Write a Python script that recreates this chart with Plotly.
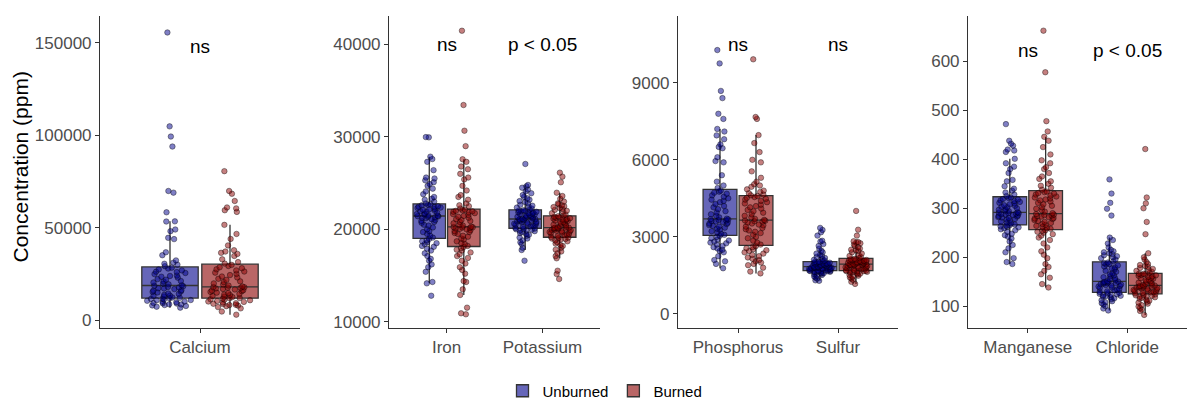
import plotly.graph_objects as go

W, H = 1187, 401
FONT = "Liberation Sans"

groups = ["Unburned", "Burned"]

calcium_unburned = [6900, 7400, 7800, 8100, 8300, 8600, 8700, 9100, 9300, 9400, 9800, 10100, 10200, 10600, 10900, 11000, 11300, 11600, 11700, 11900,
                    12200, 12400, 12900, 13300, 13400, 13800, 14300, 14500, 15100, 15400, 15600, 16100, 16300, 16900, 17200, 17400, 17800, 18100, 18400, 18700,
                    19000, 19500, 19800, 20500, 21000, 21300, 22000, 22300, 23100, 23600, 24000, 24200, 25000, 25600, 26100, 26300, 27000, 27500, 28000, 28500,
                    29300, 30100, 30600, 31200, 32400, 35200, 36800, 43900, 44600, 48200, 49100, 53400, 53500, 58400, 69000, 69900, 93900, 99300, 104800, 155500]
calcium_burned = [3100, 4800, 6500, 7200, 7700, 8000, 8300, 8400, 8800, 9000, 9300, 9700, 10000, 10200, 10500, 10900, 11200, 11400, 11700, 11900,
                  12100, 12600, 12800, 13200, 13700, 14000, 14300, 14800, 15000, 15400, 15800, 16100, 16300, 16700, 17000, 17300, 17500, 17700, 17900, 18000,
                  18300, 18800, 19400, 20000, 20700, 21100, 21900, 22500, 23200, 23700, 24500, 25100, 25800, 26400, 27000, 27600, 28200, 28700, 29400, 30000,
                  30700, 31500, 33000, 34800, 35900, 36500, 37200, 37900, 40500, 44000, 46700, 51600, 58600, 59500, 60500, 61000, 64500, 68400, 69900, 80600]

iron_unburned = [12810, 14150, 14300, 15400, 15900, 16200, 16600, 16800, 17100, 17400, 17700, 17900, 18100, 18200, 18400, 18500, 18600, 18700, 18800, 18950,
                 19100, 19300, 19500, 19700, 19800, 20000, 20200, 20400, 20500, 20700, 20800, 20900, 21000, 21100, 21200, 21250, 21300, 21350, 21400, 21420,
                 21460, 21500, 21600, 21650, 21700, 21800, 21900, 21950, 22000, 22100, 22150, 22200, 22300, 22350, 22400, 22450, 22500, 22600, 22650, 22700,
                 22800, 23000, 23200, 23300, 23500, 23800, 24100, 24400, 24700, 24900, 25100, 25300, 25500, 25600, 26400, 27300, 27600, 27860, 29950, 29980]
iron_burned = [10800, 10910, 11520, 12890, 13500, 14300, 14400, 15200, 15600, 15900, 16300, 16600, 16900, 17100, 17300, 17500, 17700, 17800, 17950, 18080,
               18200, 18400, 18500, 18700, 18900, 19000, 19200, 19300, 19500, 19600, 19700, 19800, 19900, 20000, 20050, 20100, 20150, 20200, 20220, 20240,
               20280, 20400, 20500, 20650, 20800, 20900, 21000, 21100, 21250, 21350, 21450, 21550, 21650, 21750, 21850, 21900, 21950, 22000, 22050, 22120,
               22250, 22500, 22600, 22800, 23200, 23500, 23700, 24200, 24700, 25400, 25600, 26000, 26500, 26800, 27300, 27580, 29000, 30670, 33450, 41490]

potassium_unburned = [16600, 17760, 18000, 18400, 18600, 18800, 19000, 19100, 19300, 19400, 19500, 19600, 19700, 19800, 19850, 19900, 19950, 20000, 20050, 20080,
                      20150, 20250, 20300, 20400, 20450, 20500, 20550, 20600, 20650, 20700, 20750, 20800, 20850, 20900, 20950, 21000, 21030, 21060, 21080, 21100,
                      21130, 21180, 21250, 21300, 21350, 21400, 21450, 21500, 21550, 21600, 21650, 21700, 21750, 21800, 21850, 21900, 21950, 22000, 22030, 22070,
                      22150, 22250, 22350, 22450, 22550, 22650, 22800, 22950, 23050, 23200, 23350, 23500, 23700, 23900, 24100, 24300, 24500, 24650, 24800, 27070]
potassium_burned = [14620, 15160, 15520, 16860, 17100, 17400, 17600, 17800, 18000, 18200, 18300, 18450, 18600, 18700, 18800, 18900, 18950, 19000, 19050, 19100,
                    19180, 19250, 19350, 19450, 19500, 19600, 19650, 19700, 19750, 19800, 19850, 19900, 19950, 20000, 20050, 20080, 20110, 20140, 20160, 20170,
                    20200, 20280, 20350, 20450, 20500, 20600, 20650, 20750, 20800, 20900, 20950, 21000, 21050, 21100, 21150, 21200, 21250, 21300, 21350, 21420,
                    21500, 21600, 21750, 21900, 22000, 22100, 22200, 22300, 22400, 22500, 22600, 22700, 22800, 23000, 23300, 23600, 23960, 25090, 25700, 26130]

phosphorus_unburned = [1780, 1950, 2050, 2100, 2250, 2400, 2450, 2500, 2550, 2600, 2650, 2700, 2750, 2780, 2820, 2860, 2900, 2950, 3000, 3040,
                       3080, 3120, 3180, 3220, 3280, 3320, 3360, 3400, 3430, 3460, 3500, 3520, 3550, 3580, 3600, 3620, 3640, 3660, 3680, 3690,
                       3710, 3760, 3820, 3880, 3950, 4000, 4080, 4150, 4200, 4280, 4350, 4400, 4450, 4500, 4560, 4620, 4680, 4720, 4760, 4800,
                       4900, 5000, 5150, 5400, 5900, 5950, 6100, 6450, 6500, 6600, 6800, 6950, 7100, 7200, 7590, 7790, 8400, 8680, 9750, 10270]
phosphorus_burned = [1580, 1650, 1800, 1900, 1950, 2000, 2050, 2100, 2150, 2200, 2250, 2300, 2350, 2400, 2450, 2480, 2520, 2560, 2600, 2640,
                     2700, 2780, 2850, 2950, 3000, 3080, 3150, 3200, 3250, 3300, 3350, 3400, 3450, 3480, 3520, 3560, 3590, 3610, 3630, 3640,
                     3660, 3700, 3760, 3820, 3880, 3940, 4000, 4050, 4100, 4150, 4200, 4250, 4300, 4350, 4400, 4450, 4480, 4520, 4550, 4590,
                     4620, 4650, 4700, 4750, 4800, 4850, 4950, 5000, 5050, 5150, 5300, 5550, 5900, 6000, 6300, 6650, 6960, 7590, 7665, 9910]

sulfur_unburned = [1290, 1310, 1380, 1420, 1460, 1500, 1520, 1550, 1570, 1590, 1600, 1620, 1630, 1640, 1650, 1660, 1665, 1670, 1675, 1680,
                   1690, 1700, 1710, 1720, 1730, 1740, 1750, 1760, 1770, 1780, 1790, 1795, 1800, 1805, 1810, 1815, 1820, 1825, 1830, 1835,
                   1845, 1855, 1865, 1875, 1885, 1895, 1905, 1915, 1925, 1935, 1945, 1955, 1965, 1975, 1985, 1995, 2005, 2015, 2025, 2030,
                   2050, 2080, 2110, 2140, 2180, 2220, 2260, 2300, 2350, 2400, 2460, 2540, 2650, 2720, 2820, 2850, 3050, 3180, 3270, 3350]
sulfur_burned = [1170, 1250, 1330, 1380, 1420, 1460, 1490, 1520, 1550, 1570, 1590, 1610, 1620, 1640, 1650, 1660, 1665, 1670, 1675, 1680,
                 1700, 1720, 1740, 1760, 1780, 1790, 1800, 1820, 1830, 1850, 1860, 1870, 1880, 1890, 1900, 1905, 1910, 1920, 1925, 1930,
                 1945, 1955, 1970, 1980, 1990, 2000, 2010, 2020, 2030, 2040, 2050, 2060, 2070, 2080, 2090, 2100, 2110, 2120, 2130, 2145,
                 2180, 2220, 2260, 2300, 2350, 2400, 2450, 2480, 2500, 2550, 2600, 2650, 2700, 2750, 2780, 2800, 2830, 3050, 3280, 4010]

manganese_unburned = [186, 190, 198, 210, 218, 225, 232, 238, 242, 245, 248, 252, 255, 257, 259, 261, 262, 263, 264, 265,
                      267, 269, 271, 273, 275, 277, 278, 280, 281, 282, 283, 284, 285, 286, 287, 288, 289, 290, 290, 291,
                      292, 294, 295, 297, 298, 300, 302, 303, 305, 306, 308, 310, 311, 313, 315, 316, 318, 319, 321, 322,
                      325, 328, 332, 336, 340, 345, 355, 358, 372, 380, 385, 392, 401, 415, 418, 420, 428, 432, 438, 472]
manganese_burned = [138, 145, 158, 165, 172, 180, 186, 198, 205, 212, 220, 228, 235, 240, 244, 247, 250, 252, 254, 255,
                    258, 260, 262, 264, 266, 268, 270, 272, 274, 276, 278, 279, 280, 282, 283, 284, 285, 286, 287, 288,
                    290, 293, 296, 299, 302, 305, 308, 311, 314, 316, 318, 320, 322, 324, 326, 328, 330, 331, 333, 334,
                    338, 342, 346, 350, 355, 360, 365, 372, 380, 384, 392, 398, 410, 425, 438, 446, 457, 478, 578, 663]

chloride_unburned = [91, 95, 100, 103, 106, 108, 110, 112, 114, 116, 118, 119, 120, 121, 122, 123, 124, 125, 126, 127,
                     129, 130, 132, 134, 135, 137, 138, 140, 141, 142, 143, 144, 145, 146, 147, 147, 148, 149, 149, 150,
                     151, 153, 155, 157, 159, 161, 163, 165, 167, 170, 172, 175, 177, 179, 181, 183, 185, 186, 188, 189,
                     192, 195, 198, 200, 202, 204, 206, 208, 210, 212, 215, 220, 228, 235, 240, 285, 299, 311, 330, 359]
chloride_burned = [82, 90, 93, 96, 99, 102, 105, 107, 109, 111, 113, 115, 117, 118, 119, 120, 121, 122, 123, 124,
                   126, 127, 128, 129, 130, 131, 132, 133, 134, 135, 136, 137, 138, 138, 139, 140, 140, 141, 141, 142,
                   143, 144, 145, 147, 148, 150, 151, 153, 154, 156, 157, 158, 160, 161, 162, 163, 164, 165, 166, 166,
                   168, 170, 172, 174, 176, 178, 180, 182, 184, 186, 190, 195, 200, 208, 247, 272, 300, 310, 322, 421]

panels = [
    {"cats": ["Calcium"], "u": [calcium_unburned], "b": [calcium_burned]},
    {"cats": ["Iron", "Potassium"], "u": [iron_unburned, potassium_unburned], "b": [iron_burned, potassium_burned]},
    {"cats": ["Phosphorus", "Sulfur"], "u": [phosphorus_unburned, sulfur_unburned], "b": [phosphorus_burned, sulfur_burned]},
    {"cats": ["Manganese", "Chloride"], "u": [manganese_unburned, chloride_unburned], "b": [manganese_burned, chloride_burned]},
]

sig_labels = [["ns"], ["ns", "p < 0.05"], ["ns", "ns"], ["ns", "p < 0.05"]]
sig_y = [148000, 40000, 10480, 622]

y_ranges = [[-4100, 164400], [9318, 43084], [-545, 11595], [55.2, 693]]
y_ticks = [[0, 50000, 100000, 150000], [10000, 20000, 30000, 40000], [0, 3000, 6000, 9000], [100, 200, 300, 400, 500, 600]]
x_px = [(100, 300), (389, 600), (678, 898), (968, 1187)]
y_px = (16, 328)

styles = {
    "Unburned": dict(fill="rgba(0,0,139,0.6)", pt="rgba(0,0,139,0.5)"),
    "Burned": dict(fill="rgba(139,0,0,0.6)", pt="rgba(139,0,0,0.5)"),
}

fig = go.Figure()
for i, p in enumerate(panels):
    ax = "" if i == 0 else str(i + 1)
    for g, key in zip(groups, ["u", "b"]):
        xs, ys = [], []
        for cat, vals in zip(p["cats"], p[key]):
            xs += [cat] * len(vals)
            ys += vals
        st = styles[g]
        fig.add_trace(go.Box(
            x=xs, y=ys, name=g, legendgroup=g, showlegend=(i == 0),
            xaxis="x" + ax, yaxis="y" + ax,
            offsetgroup=g, alignmentgroup="panel%d" % i,
            boxpoints="all", jitter=0.85, pointpos=0, whiskerwidth=0,
            fillcolor=st["fill"],
            line=dict(color="#333333", width=1.3),
            marker=dict(color=st["pt"], size=5.5, line=dict(color="rgba(0,0,0,0.55)", width=0.7)),
            hoverinfo="skip",
        ))

axis_common = dict(showgrid=False, zeroline=False, showline=True, linecolor="#333333", linewidth=1.1,
                   ticks="outside", ticklen=4, tickwidth=1.1, tickcolor="#333333", automargin=False,
                   tickfont=dict(family=FONT, size=17, color="#4d4d4d"))

layout = dict(width=W, height=H, margin=dict(l=0, r=0, t=0, b=0, autoexpand=False),
              plot_bgcolor="white", paper_bgcolor="white",
              boxmode="group", boxgap=0.28, boxgroupgap=0.06,
              font=dict(family=FONT))
annotations = []
for i, p in enumerate(panels):
    ax = "" if i == 0 else str(i + 1)
    x0, x1 = x_px[i]
    n = len(p["cats"])
    layout["xaxis" + ax] = dict(axis_common, domain=[x0 / W, x1 / W], anchor="y" + ax,
                                type="category", categoryorder="array", categoryarray=p["cats"],
                                range=[-0.6, n - 0.4])
    layout["yaxis" + ax] = dict(axis_common, domain=[1 - y_px[1] / H, 1 - y_px[0] / H], anchor="x" + ax,
                                range=y_ranges[i], tickvals=y_ticks[i], tickformat="d")
    for cat, lab in zip(p["cats"], sig_labels[i]):
        annotations.append(dict(x=cat, y=sig_y[i], xref="x" + ax, yref="y" + ax, text=lab,
                                showarrow=False, xanchor="center", yanchor="middle",
                                font=dict(family=FONT, size=19, color="black")))

annotations.append(dict(x=20 / W, y=1 - 167.5 / H, xref="paper", yref="paper", text="Concentration (ppm)",
                        textangle=-90, showarrow=False, xanchor="center", yanchor="middle",
                        font=dict(family=FONT, size=21, color="black")))
layout["annotations"] = annotations
layout["legend"] = dict(orientation="h", x=605 / W, xanchor="center", y=1 - 391 / H, yanchor="middle",
                        font=dict(family=FONT, size=15, color="black"), bgcolor="rgba(0,0,0,0)",
                        itemwidth=30, tracegroupgap=0)
fig.update_layout(**layout)
fig.write_html("out.html", config={"displayModeBar": False},
               post_script="document.body.style.margin='0px';document.body.style.overflow='hidden';")
